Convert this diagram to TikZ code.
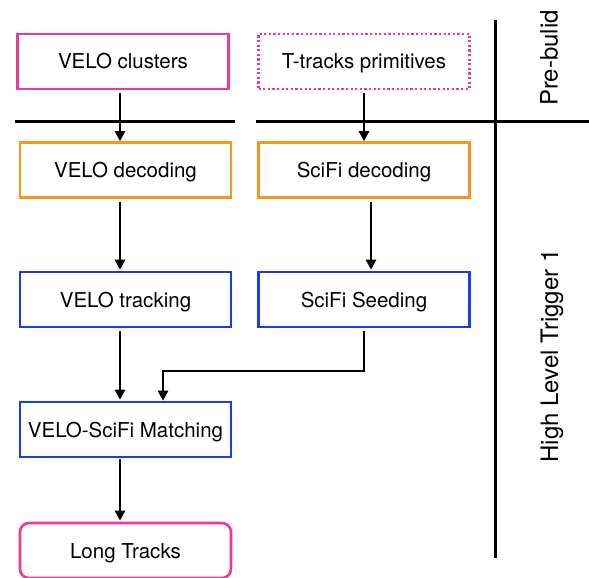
\documentclass[tikz,border=0pt]{standalone}
\usepackage{fontspec}
\setmainfont{TeX Gyre Heros}
\usetikzlibrary{arrows.meta,positioning}
\definecolor{pinkc}{RGB}{238,56,150}
\definecolor{orangec}{RGB}{248,150,28}
\definecolor{bluec}{RGB}{24,60,240}
\tikzset{
  box/.style={draw, line width=2.6pt, minimum width=211pt, minimum height=55pt, inner sep=0pt, text depth=0pt, text height=0pt, font=\fontsize{20.5}{24}\selectfont},
  pinkbox/.style={box, draw=pinkc},
  dotbox/.style={box, draw=pinkc, dash pattern=on 2.2pt off 2.4pt},
  orangebox/.style={box, draw=orangec},
  bluebox/.style={box, draw=bluec},
  flow/.style={line width=2.5pt, -{Triangle[length=10pt,width=10pt]}},
  divider/.style={line width=3pt},
  side/.style={rotate=90, font=\fontsize{24}{28}\selectfont}
}
\begin{document}
\begin{tikzpicture}[x=1pt,y=-1pt]
\useasboundingbox (0,0) rectangle (589,578);
\node[pinkbox] (vc) at (123,61.5) {\raisebox{-7.5pt}{VELO clusters}};
\node[dotbox] (tt) at (364,61.5) {\raisebox{-7.5pt}{T-tracks primitives}};
\node[orangebox] (vd) at (125.5,170) {\raisebox{-7.5pt}{VELO decoding}};
\node[orangebox] (sd) at (364,170) {\raisebox{-7.5pt}{SciFi decoding}};
\node[bluebox] (vt) at (125.5,299.5) {\raisebox{-7.5pt}{VELO tracking}};
\node[bluebox] (ss) at (364,299.5) {\raisebox{-7.5pt}{SciFi Seeding}};
\node[bluebox] (m) at (125.5,429.5) {\raisebox{-7.5pt}{VELO-SciFi Matching}};
\node[box, draw=pinkc, rounded corners=9pt] (lt) at (125.5,550.5) {\raisebox{-7.5pt}{Long Tracks}};
% dividers
\coordinate (hl1) at (15,121.5);
\coordinate (hl2) at (235,121.5);
\coordinate (hr1) at (256,121.5);
\coordinate (hr2) at (589,121.5);
\coordinate (vtop) at (495.5,20);
\coordinate (vbot) at (495.5,558);
\draw[divider] (hl1) -- (hl2);
\draw[divider] (hr1) -- (hr2);
\draw[divider] (vtop) -- (vbot);
\node[side] (pb) at (549,58) {Pre-bulid};
\node[side] (hlt) at (552,356) {High Level Trigger 1};
% flows
\draw[flow] ([xshift=-3pt,yshift=-3pt]vc.south) -- ([xshift=-5.5pt]vd.north);
\draw[flow] ([yshift=-3pt]tt.south) -- (sd.north);
\draw[flow] ([xshift=-5.5pt,yshift=-3pt]vd.south) -- ([xshift=-5.5pt,yshift=1pt]vt.north);
\draw[flow] ([xshift=7pt,yshift=-3pt]sd.south) -- ([xshift=7pt,yshift=1pt]ss.north);
\coordinate (bend) at (163,371);
\draw[flow] ([xshift=-5.5pt,yshift=-3pt]vt.south) -- ([xshift=-5.5pt,yshift=1pt]m.north);
\draw[flow] ([yshift=-3pt]ss.south) |- (bend) -- (bend |- m.north);
\draw[flow] ([xshift=-5.5pt,yshift=-1pt]m.south) -- ([xshift=-5.5pt,yshift=1pt]lt.north);
\end{tikzpicture}
\end{document}
